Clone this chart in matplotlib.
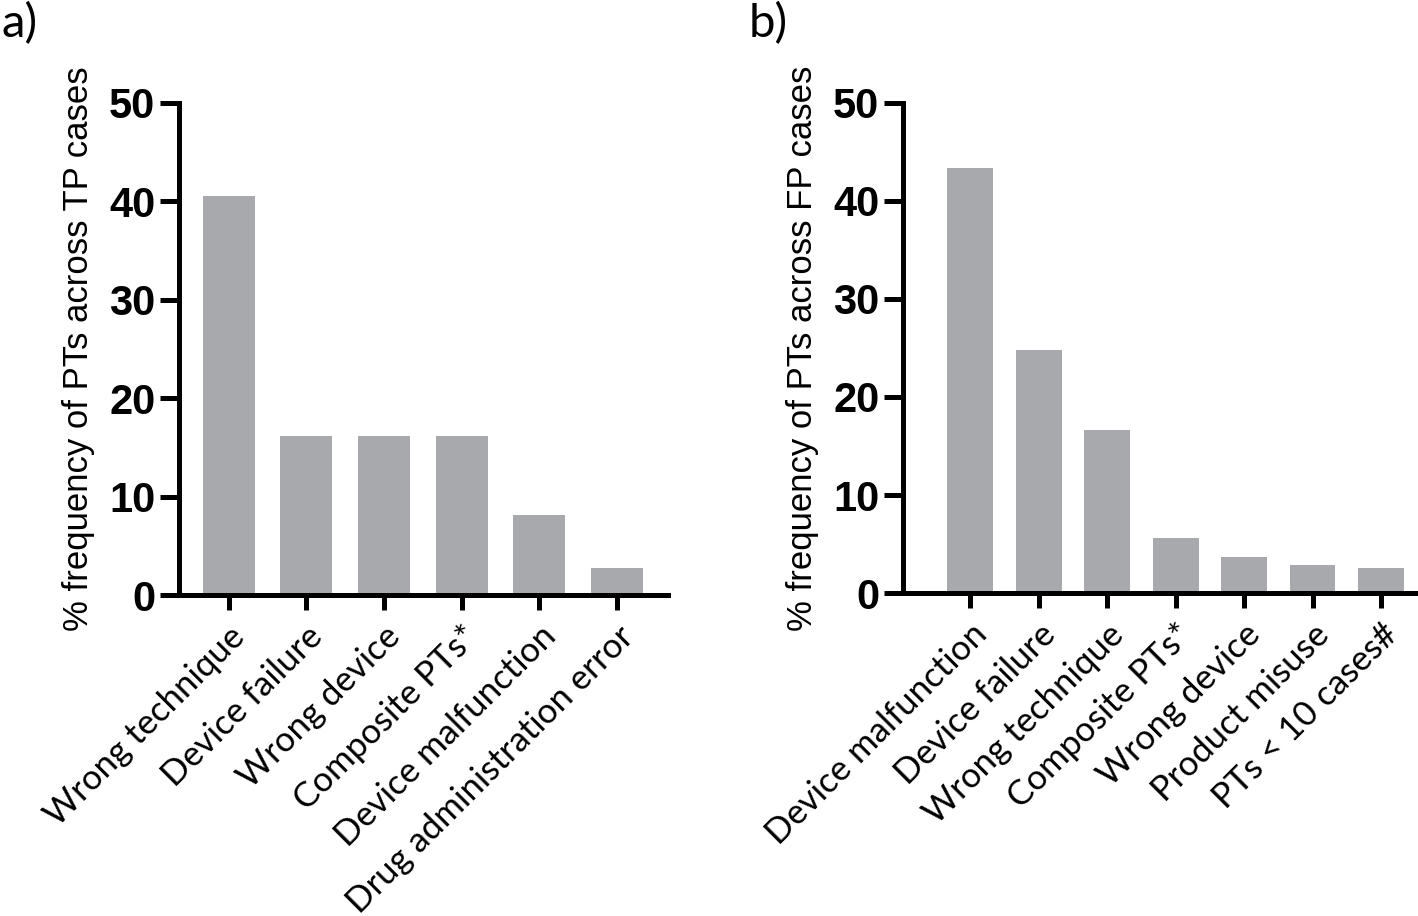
import matplotlib.pyplot as plt

labels_a = ["Wrong technique", "Device failure", "Wrong device", "Composite PTs*",
            "Device malfunction", "Drug administration error"]
values_a = [40.5, 16.2, 16.2, 16.2, 8.1, 2.7]

labels_b = ["Device malfunction", "Device failure", "Wrong technique", "Composite PTs*",
            "Wrong device", "Product misuse", "PTs < 10 cases#"]
values_b = [43.4, 24.8, 16.6, 5.6, 3.7, 2.9, 2.6]

bar_color = "#a7a9ac"

fig = plt.figure(figsize=(14.18, 9.16), dpi=100)
ax1 = fig.add_axes([0.1262, 0.3504, 0.3449, 0.5372])
ax2 = fig.add_axes([0.6368, 0.3526, 0.3632, 0.5350])

def style(ax, labels, values, ylabel, xlim, width):
	x = range(len(values))
	ax.bar(x, values, width=width, color=bar_color, zorder=1)
	ax.set_xlim(*xlim)
	ax.set_ylim(0, 50)
	ax.set_yticks([0, 10, 20, 30, 40, 50])
	ax.set_xticks(list(x))
	ax.set_xticklabels(labels, rotation=45, ha="right", rotation_mode="anchor",
		fontsize=25, family="Lato", color="black")
	for lab in ax.get_yticklabels():
		lab.set_fontfamily(["Liberation Sans Narrow", "Liberation Sans"])
		lab.set_fontweight("bold")
		lab.set_fontsize(30)
	ax.spines["top"].set_visible(False)
	ax.spines["right"].set_visible(False)
	ax.spines["left"].set_linewidth(3.6)
	ax.spines["bottom"].set_linewidth(3.6)
	ax.tick_params(axis="y", length=14, width=3.6, pad=3)
	ax.tick_params(axis="x", length=11, width=3.6, pad=7)
	ax.set_ylabel(ylabel, fontsize=25, family="Liberation Sans", labelpad=10)

style(ax1, labels_a, values_a, "% frequency of PTs across TP cases", (-0.64, 5.66), 0.67)
style(ax2, labels_b, values_b, "% frequency of PTs across FP cases", (-0.98, 6.54), 0.67)

fig.text(0.001, 0.998, "a)", fontsize=34, family="Lato", va="top", ha="left")
fig.text(0.528, 0.998, "b)", fontsize=34, family="Lato", va="top", ha="left")

fig.savefig("out.png", dpi=100)
